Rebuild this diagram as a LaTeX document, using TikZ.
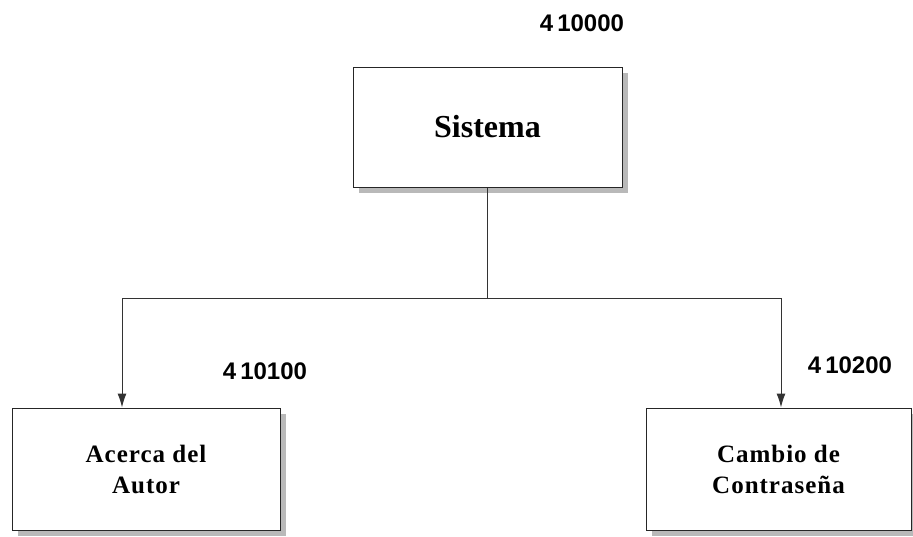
\documentclass[tikz,border=0pt]{standalone}
\usepackage{fontspec}
\setmainfont{Liberation Serif}
\newfontfamily\numfont{Liberation Sans}
\newfontfamily\boxfont[LetterSpace=4]{Liberation Serif}
\usetikzlibrary{arrows.meta,shadows}
\begin{document}
\begin{tikzpicture}[x=1pt,y=-1pt,
  box/.style={draw=black!85,line width=1pt,fill=white,align=center,inner sep=0pt,
    drop shadow={shadow xshift=6pt,shadow yshift=-6pt,fill=gray!55,opacity=1}},
  subtext/.style={font=\boxfont\bfseries\fontsize{25}{31}\selectfont},
  numlabel/.style={font=\numfont\bfseries\fontsize{24}{28}\selectfont,inner sep=0pt},
  conn/.style={line width=1pt,draw=black!80},
  arr/.style={conn,-{Latex[length=14pt,width=9pt]}}]
\useasboundingbox (0,0) rectangle (913,536);
\node[box,minimum width=269pt,minimum height=120pt,font=\bfseries\fontsize{32}{38}\selectfont] (top) at (487.5,127) {Sistema};
\node[box,subtext,minimum width=268pt,minimum height=122pt] (left) at (146,469) {Acerca del\\Autor};
\node[box,subtext,minimum width=265pt,minimum height=122pt] (right) at (778.5,469) {Cambio de\\Contraseña};
\node[numlabel] (n0) at (582,23) {4\,10000};
\node[numlabel] (n1) at (265,371) {4\,10100};
\node[numlabel] (n2) at (850,365) {4\,10200};
\coordinate (j) at (487.5,298);
\coordinate (la) at (122,298);
\coordinate (ra) at (781,298);
\draw[conn] (top.south) -- (j);
\draw[conn] (la) -- (ra);
\draw[arr] (la) -- (la |- left.north);
\draw[arr] (ra) -- (ra |- right.north);
\end{tikzpicture}
\end{document}
